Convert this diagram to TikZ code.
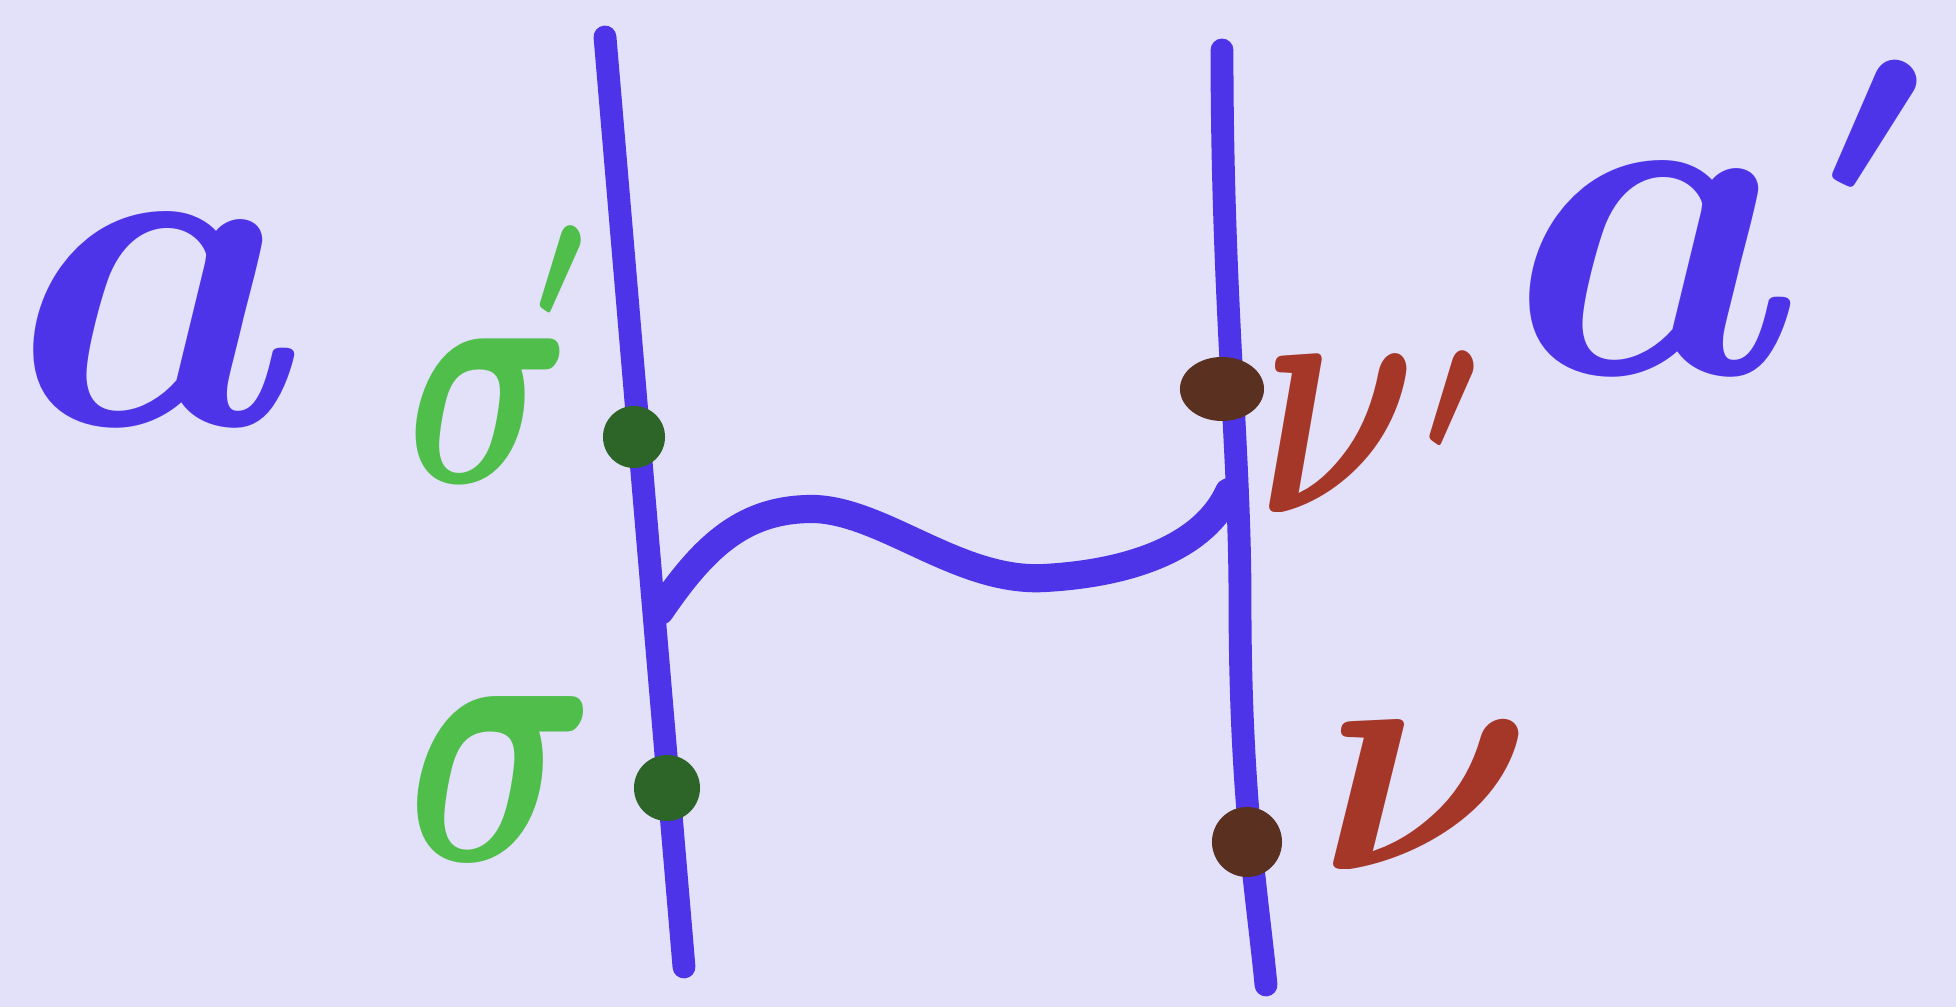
\documentclass[tikz,border=0pt]{standalone}
\usepackage{amsmath,bm}
\definecolor{paper}{RGB}{227,224,249}
\definecolor{ink}{RGB}{78,52,232}
\definecolor{lgreen}{RGB}{80,190,75}
\definecolor{dgreen}{RGB}{45,100,40}
\definecolor{lbrown}{RGB}{165,55,40}
\definecolor{dbrown}{RGB}{90,48,32}
\usetikzlibrary{shapes.geometric}
% prime with given kern and raise
\newcommand{\prm}[2]{\mkern#1\raisebox{#2}{$\scriptscriptstyle\bm{\prime}$}}
\tikzset{
  strand/.style={draw=ink, line width=6.5pt, line cap=round},
  wave/.style={draw=ink, line width=8pt, line cap=round},
  gdot/.style={circle, fill=dgreen, inner sep=0pt, minimum size=0.62cm},
  bdot/.style={ellipse, fill=dbrown, inner sep=0pt},
  biglabel/.style={text=ink, inner sep=0pt, font=\normalsize, scale=13.4},
  glabel/.style={text=lgreen, inner sep=0pt, font=\normalsize},
  blabel/.style={text=lbrown, inner sep=0pt, font=\normalsize},
}
\begin{document}
\begin{tikzpicture}[x=0.01cm, y=-0.01cm]
\fill[paper] (0,0) rectangle (1956,1007);
\useasboundingbox (0,0) rectangle (1956,1007);
% strands
\coordinate (Ltop) at (605,37);
\coordinate (Lbot) at (684,967);
\coordinate (Rtop) at (1222,50);
\coordinate (Rbot) at (1266,985);
\coordinate (Wstart) at (660,611);
\coordinate (Wend) at (1229,492);
\draw[strand] (Ltop) -- (Lbot);
\draw[strand] (Rtop) .. controls (1222,300) and (1240,450) .. (1240,600) .. controls (1240,800) and (1258,900) .. (Rbot);
\draw[wave] (Wstart) .. controls (705,545) and (745,508) .. (815,509) .. controls (885,512) and (960,583) .. (1045,578) .. controls (1135,573) and (1205,545) .. (Wend);
% dots
\node[gdot] (s1) at (634,437) {};
\node[gdot, minimum size=0.66cm] (s0) at (667,788) {};
\node[bdot, minimum width=0.84cm, minimum height=0.64cm] (n1) at (1222,389) {};
\node[bdot, minimum width=0.7cm, minimum height=0.7cm] (n0) at (1247,842) {};
% labels
\node[biglabel] (a) at (162,320) {$\bm{a}$};
\node[biglabel, anchor=base west] (ap) at (1499,374) {$\bm{a}\prm{0.3mu}{3.85pt}$};
\node[glabel, xscale=6.5, yscale=9.2, anchor=base west] (sp) at (402,483) {$\bm{\sigma}\prm{-3.2mu}{5.15pt}$};
\node[glabel, xscale=7.5, yscale=10.5, anchor=base west] (s) at (401,861) {$\bm{\sigma}$};
\node[blabel, xscale=7, yscale=10, anchor=base west] (np) at (1254,513) {$\bm{\nu}\prm{0.2mu}{1.8pt}$};
\node[blabel, scale=9.45, anchor=base west] (n) at (1312,870) {$\bm{\nu}$};
\end{tikzpicture}
\end{document}
